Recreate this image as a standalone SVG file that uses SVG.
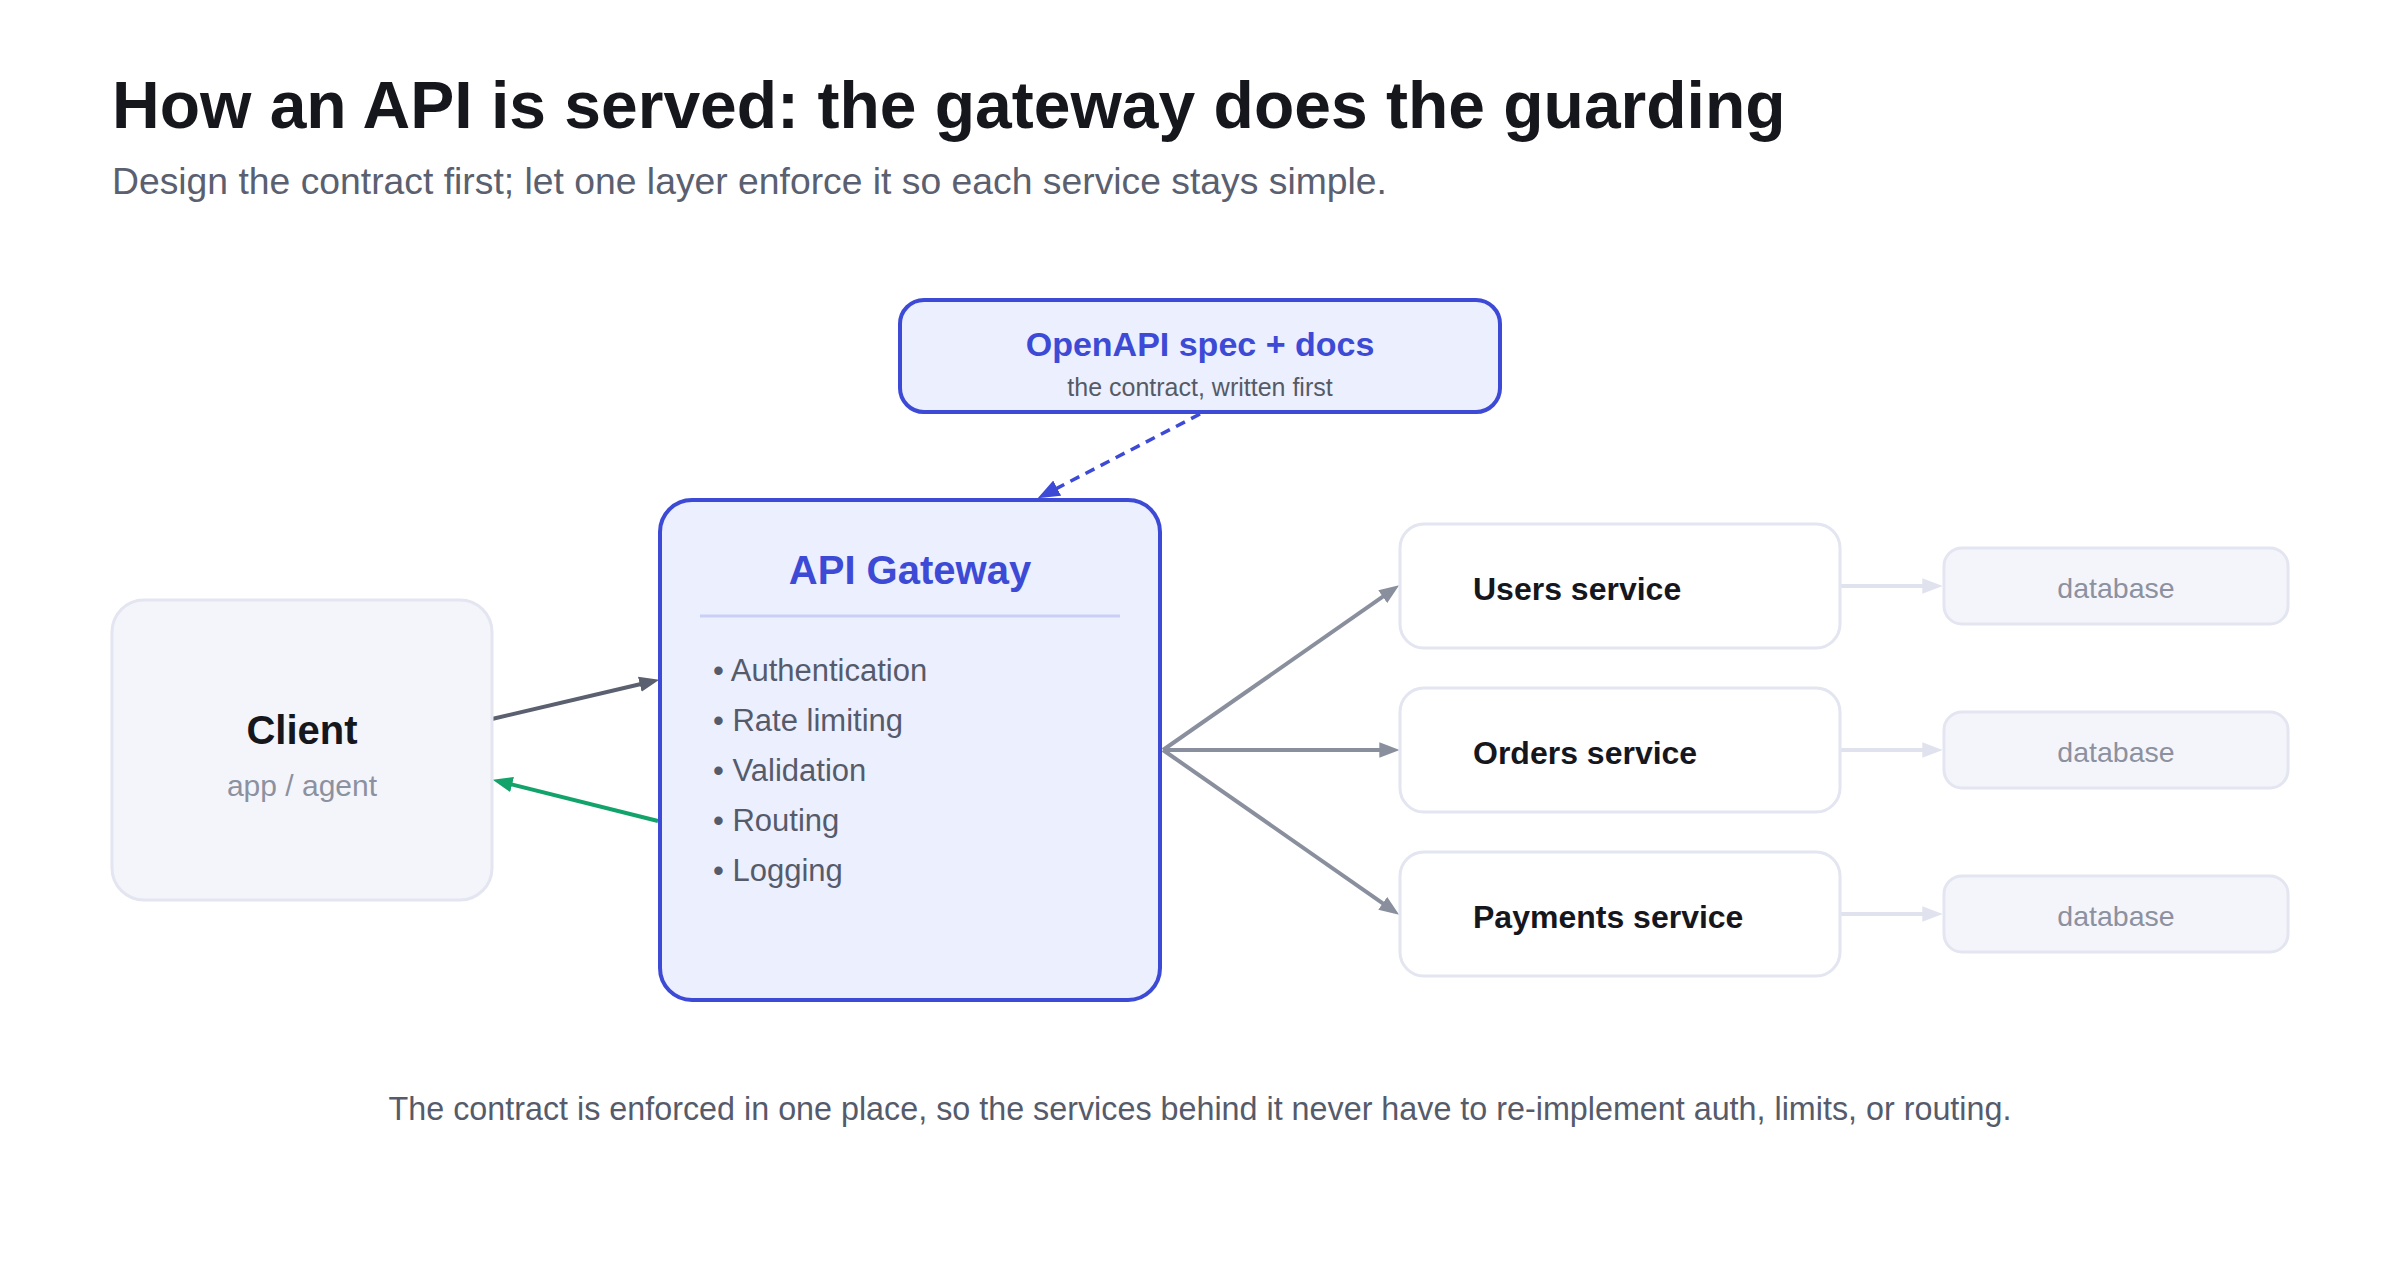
<svg xmlns="http://www.w3.org/2000/svg" width="2400" height="1280" viewBox="0 0 2400 1280">
<defs>
<style>
text{font-family:"Liberation Sans",Arial,sans-serif}
.title{font-size:66px;font-weight:bold;fill:#16161d}
.sub{font-size:37.3px;fill:#5a6070}
.foot{font-size:32.3px;fill:#555b6b}
.soft{fill:#f4f5fb;stroke:#e3e5f0;stroke-width:3}
.svc{fill:#ffffff;stroke:#e3e5f0;stroke-width:3}
.blue{fill:#eceffd;stroke:#3d4ad6;stroke-width:4}
.h{font-weight:bold;fill:#16161d}
.bullet{font-size:31px;fill:#555b6b}
.muted{fill:#8c91a0}
.c{stroke-width:4;fill:none}
</style>
<marker id="mDark" markerUnits="userSpaceOnUse" markerWidth="20" markerHeight="16" viewBox="0 0 18 14" refX="6" refY="7" orient="auto"><path d="M0,0 L18,7 L0,14 z" fill="#5a6070"/></marker>
<marker id="mGreen" markerUnits="userSpaceOnUse" markerWidth="20" markerHeight="16" viewBox="0 0 18 14" refX="6" refY="7" orient="auto"><path d="M0,0 L18,7 L0,14 z" fill="#12a36b"/></marker>
<marker id="mBlue" markerUnits="userSpaceOnUse" markerWidth="22" markerHeight="18" viewBox="0 0 18 14" refX="6" refY="7" orient="auto"><path d="M0,0 L18,7 L0,14 z" fill="#3d4ad6"/></marker>
<marker id="mGrey" markerUnits="userSpaceOnUse" markerWidth="20" markerHeight="16" viewBox="0 0 18 14" refX="6" refY="7" orient="auto"><path d="M0,0 L18,7 L0,14 z" fill="#8a8f9e"/></marker>
<marker id="mLight" markerUnits="userSpaceOnUse" markerWidth="20" markerHeight="16" viewBox="0 0 18 14" refX="6" refY="7" orient="auto"><path d="M0,0 L18,7 L0,14 z" fill="#e0e2ee"/></marker>
</defs>
<rect width="2400" height="1280" fill="#ffffff"/>
<text class="title" x="112" y="128">How an API is served: the gateway does the guarding</text>
<text class="sub" x="112" y="194">Design the contract first; let one layer enforce it so each service stays simple.</text>

<g id="connectors">
<line class="c" x1="492" y1="719" x2="646.3" y2="682.7" stroke="#5a6070" marker-end="url(#mDark)"/>
<line class="c" x1="658" y1="821" x2="505.6" y2="782.9" stroke="#12a36b" marker-end="url(#mGreen)"/>
<line x1="1200" y1="414" x2="1050.7" y2="491.5" stroke="#3d4ad6" stroke-width="3.5" stroke-dasharray="10 7" fill="none" marker-end="url(#mBlue)"/>
<line class="c" x1="1163" y1="750" x2="1388.2" y2="592.9" stroke="#8a8f9e" stroke-width="3.5" marker-end="url(#mGrey)"/>
<line class="c" x1="1163" y1="750" x2="1386" y2="750" stroke="#8a8f9e" stroke-width="3.5" marker-end="url(#mGrey)"/>
<line class="c" x1="1163" y1="750" x2="1388.2" y2="907.1" stroke="#8a8f9e" stroke-width="3.5" marker-end="url(#mGrey)"/>
<line class="c" x1="1840" y1="586" x2="1929" y2="586" stroke="#e0e2ee" marker-end="url(#mLight)"/>
<line class="c" x1="1840" y1="750" x2="1929" y2="750" stroke="#e0e2ee" marker-end="url(#mLight)"/>
<line class="c" x1="1840" y1="914" x2="1929" y2="914" stroke="#e0e2ee" marker-end="url(#mLight)"/>
</g>

<g id="spec">
<rect class="blue" x="900" y="300" width="600" height="112" rx="24" stroke-width="3.5"/>
<text x="1200" y="356" text-anchor="middle" font-size="34" font-weight="bold" fill="#3d4ad6">OpenAPI spec + docs</text>
<text x="1200" y="396" text-anchor="middle" font-size="25" fill="#555b66">the contract, written first</text>
</g>

<g id="client">
<rect class="soft" x="112" y="600" width="380" height="300" rx="32"/>
<text class="h" x="302" y="744" text-anchor="middle" font-size="40">Client</text>
<text class="muted" x="302" y="796" text-anchor="middle" font-size="30">app / agent</text>
</g>

<g id="gateway">
<rect class="blue" x="660" y="500" width="500" height="500" rx="32"/>
<text x="910" y="584" text-anchor="middle" font-size="40" font-weight="bold" fill="#3d4ad6">API Gateway</text>
<line x1="700" y1="616" x2="1120" y2="616" stroke="#c9cff5" stroke-width="3"/>
<text class="bullet" x="713" y="681">• Authentication</text>
<text class="bullet" x="713" y="731">• Rate limiting</text>
<text class="bullet" x="713" y="781">• Validation</text>
<text class="bullet" x="713" y="831">• Routing</text>
<text class="bullet" x="713" y="881">• Logging</text>
</g>

<g id="users">
<rect class="svc" x="1400" y="524" width="440" height="124" rx="24"/>
<text class="h" x="1473" y="600" font-size="32">Users service</text>
</g>
<g id="orders">
<rect class="svc" x="1400" y="688" width="440" height="124" rx="24"/>
<text class="h" x="1473" y="764" font-size="32">Orders service</text>
</g>
<g id="payments">
<rect class="svc" x="1400" y="852" width="440" height="124" rx="24"/>
<text class="h" x="1473" y="928" font-size="32">Payments service</text>
</g>

<g id="db-users">
<rect class="soft" x="1944" y="548" width="344" height="76" rx="18"/>
<text class="muted" x="2116" y="598" text-anchor="middle" font-size="28.5">database</text>
</g>
<g id="db-orders">
<rect class="soft" x="1944" y="712" width="344" height="76" rx="18"/>
<text class="muted" x="2116" y="762" text-anchor="middle" font-size="28.5">database</text>
</g>
<g id="db-payments">
<rect class="soft" x="1944" y="876" width="344" height="76" rx="18"/>
<text class="muted" x="2116" y="926" text-anchor="middle" font-size="28.5">database</text>
</g>

<text class="foot" x="1200" y="1120" text-anchor="middle">The contract is enforced in one place, so the services behind it never have to re-implement auth, limits, or routing.</text>
</svg>
